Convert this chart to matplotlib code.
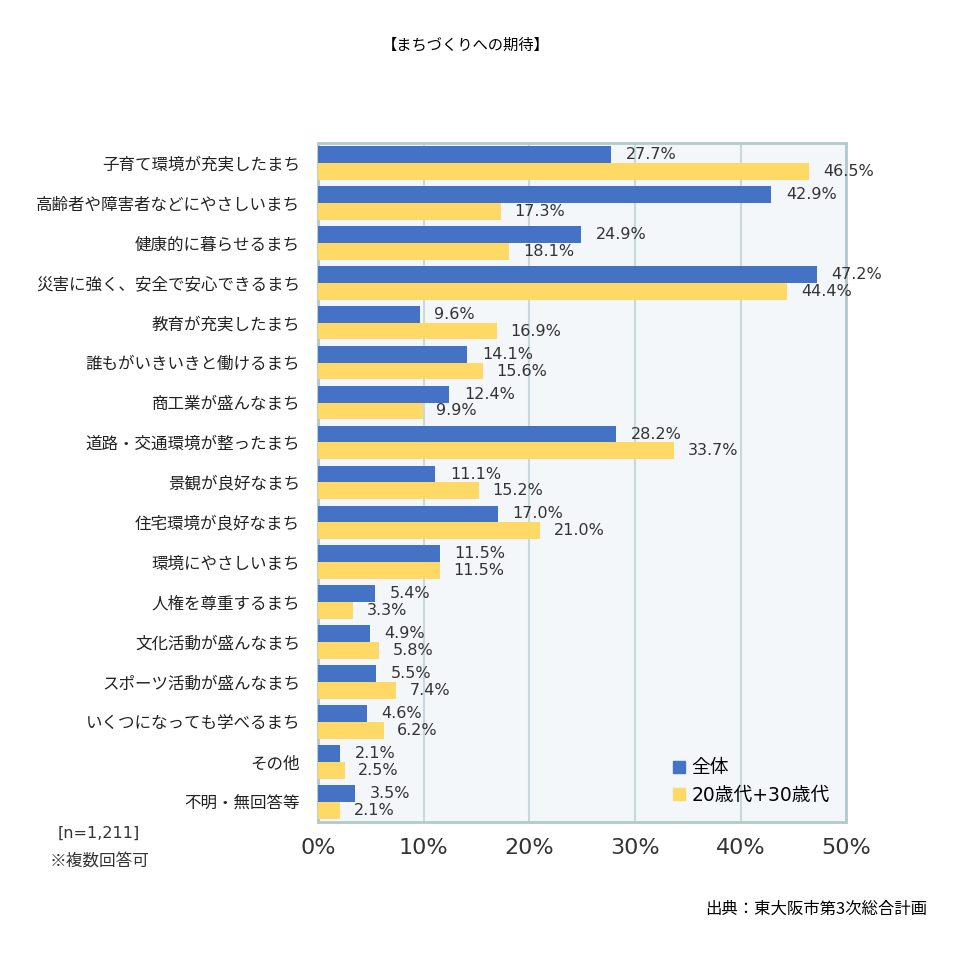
import matplotlib
matplotlib.use("Agg")
import matplotlib.pyplot as plt
import numpy as np
from matplotlib.patches import Patch

plt.rcParams["font.family"] = ["Noto Sans CJK JP", "DejaVu Sans"]
NUM_FONT = ["DejaVu Sans", "Noto Sans CJK JP"]

categories = [
    "子育て環境が充実したまち", "高齢者や障害者などにやさしいまち", "健康的に暮らせるまち",
    "災害に強く、安全で安心できるまち", "教育が充実したまち", "誰もがいきいきと働けるまち",
    "商工業が盛んなまち", "道路・交通環境が整ったまち", "景観が良好なまち",
    "住宅環境が良好なまち", "環境にやさしいまち", "人権を尊重するまち",
    "文化活動が盛んなまち", "スポーツ活動が盛んなまち", "いくつになっても学べるまち",
    "その他", "不明・無回答等",
]
all_resp = [27.7, 42.9, 24.9, 47.2, 9.6, 14.1, 12.4, 28.2, 11.1, 17.0,
            11.5, 5.4, 4.9, 5.5, 4.6, 2.1, 3.5]
young = [46.5, 17.3, 18.1, 44.4, 16.9, 15.6, 9.9, 33.7, 15.2, 21.0,
         11.5, 3.3, 5.8, 7.4, 6.2, 2.5, 2.1]
series_names = ["全体", "20歳代+30歳代"]
xticks = [0, 10, 20, 30, 40, 50]

BLUE = "#4472c4"
YELLOW = "#ffd966"

fig = plt.figure(figsize=(9.64, 9.6), dpi=100)
ax = fig.add_axes([0.330, 0.144, 0.548, 0.707])
ax.set_facecolor("#f4f7fa")

y = np.arange(len(categories))
h = 0.42
ax.barh(y - h / 2, all_resp, height=h, color=BLUE, zorder=3)
ax.barh(y + h / 2, young, height=h, color=YELLOW, zorder=3)

for yi, v in zip(y, all_resp):
    ax.text(v + 1.4, yi - h / 2, f"{v:.1f}%", va="center", ha="left",
            fontsize=11.5, family=NUM_FONT, color="#333333", zorder=4)
for yi, v in zip(y, young):
    ax.text(v + 1.3, yi + h / 2, f"{v:.1f}%", va="center", ha="left",
            fontsize=11.5, family=NUM_FONT, color="#333333", zorder=4)

ax.set_xlim(0, 50)
ax.set_ylim(len(categories) - 0.5, -0.5)
ax.set_xticks(xticks)
ax.set_xticklabels([f"{t}%" for t in xticks], fontsize=16, family=NUM_FONT,
                   color="#333333")
ax.set_yticks(y)
ax.set_yticklabels(categories, fontsize=11.9, color="#222222")
ax.tick_params(axis="both", length=0)
ax.tick_params(axis="y", pad=13)
ax.tick_params(axis="x", pad=12)
ax.xaxis.grid(True, color="#c9d8dc", linewidth=1.5, zorder=0)
for s in ax.spines.values():
    s.set_color("#b2c9cd")
    s.set_linewidth(2)

handles = [Patch(color=BLUE), Patch(color=YELLOW)]
ax.legend(handles, series_names, loc="lower right", frameon=False,
          prop={"family": NUM_FONT, "size": 13.5},
          handlelength=0.6, handleheight=0.6, handletextpad=0.35,
          labelspacing=0.45, bbox_to_anchor=(1.0, 0.0))

fig.text(0.483, 0.953, "【まちづくりへの期待】", ha="center", va="center", fontsize=11)
fig.text(0.102, 0.132, "[n=1,211]", ha="center", va="center", fontsize=11.5,
         family=NUM_FONT, color="#333333")
fig.text(0.103, 0.102, "※複数回答可", ha="center", va="center", fontsize=12,
         color="#333333")
fig.text(0.962, 0.053, "出典：東大阪市第3次総合計画", ha="right", va="center",
         fontsize=11.8)

fig.savefig("out.png", dpi=100)
